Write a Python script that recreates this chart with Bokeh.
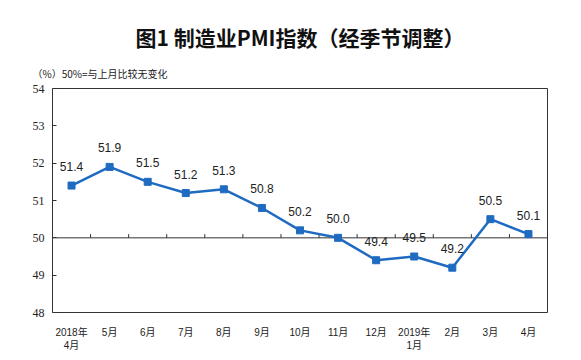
from bokeh.plotting import figure
from bokeh.models import Range1d, FixedTicker, Title, ColumnDataSource
from bokeh.core.properties import value
from bokeh.embed import file_html
from bokeh.resources import INLINE

title_text = "图1 制造业PMI指数（经季节调整）"
note_text = "（%）50%=与上月比较无变化"
months = ["2018年\n4月", "5月", "6月", "7月", "8月", "9月", "10月", "11月",
          "12月", "2019年\n1月", "2月", "3月", "4月"]
pmi = [51.4, 51.9, 51.5, 51.2, 51.3, 50.8, 50.2, 50.0, 49.4, 49.5, 49.2, 50.5, 50.1]
y_ticks = [48, 49, 50, 51, 52, 53, 54]

blue = "#1f6bc1"
xs = list(range(len(months)))

p = figure(frame_width=495, frame_height=224, width=573, height=352,
           min_border_left=52, min_border_right=26, min_border_top=88, min_border_bottom=40,
           x_range=Range1d(-0.5, len(months) - 0.5), y_range=Range1d(48, 54),
           output_backend="svg", toolbar_location=None)
p.background_fill_color = "white"
p.border_fill_color = "white"
p.outline_line_color = "#333333"
p.outline_line_width = 1
p.grid.visible = False

# y axis
p.yaxis.ticker = FixedTicker(ticks=y_ticks)
p.yaxis.axis_line_color = None
p.yaxis.major_tick_in = 4
p.yaxis.major_tick_out = 0
p.yaxis.major_tick_line_color = "#333333"
p.yaxis.minor_tick_line_color = None
p.yaxis.major_label_text_font = "Liberation Serif"
p.yaxis.major_label_text_font_size = "12px"
p.yaxis.major_label_text_color = "#222222"
p.yaxis.major_label_standoff = 8

# x axis
p.xaxis.ticker = FixedTicker(ticks=xs)
p.xaxis.major_label_overrides = {i: m for i, m in enumerate(months)}
p.xaxis.axis_line_color = None
p.xaxis.major_tick_line_color = None
p.xaxis.minor_tick_line_color = None
p.xaxis.major_label_text_font = "Liberation Sans, Noto Sans CJK SC"
p.xaxis.major_label_text_font_size = "10px"
p.xaxis.major_label_text_color = "#222222"
p.xaxis.major_label_standoff = 8

# 50 baseline with small ticks between categories
p.line(x=[-0.5, len(months) - 0.5], y=[50, 50], line_color="#333333", line_width=1)
bx = [i + 0.5 for i in range(len(months) - 1)]
p.segment(x0=bx, y0=[50] * len(bx), x1=bx, y1=[50.1] * len(bx), line_color="#333333", line_width=1)

src = ColumnDataSource(dict(x=xs, y=pmi, lab=[f"{v:.1f}" for v in pmi]))
p.line("x", "y", source=src, line_color=blue, line_width=2.5)
p.scatter("x", "y", source=src, marker="square", size=7, fill_color=blue, line_color=blue)
p.text("x", "y", text="lab", source=src, y_offset=-19, text_align="center",
       text_baseline="middle", text_font=value("Liberation Sans"),
       text_font_size="12px", text_color="#222222")

sub = Title(text=note_text, align="left", offset=-20, standoff=16,
            text_font="Noto Sans CJK SC", text_font_size="10px",
            text_font_style="normal", text_color="#222222")
main = Title(text=title_text, align="center", standoff=8,
             text_font="Noto Sans CJK SC", text_font_size="21px",
             text_font_style="bold", text_color="#111111")
p.add_layout(sub, "above")
p.add_layout(main, "above")

open("out.html", "w").write(file_html(p, INLINE))
